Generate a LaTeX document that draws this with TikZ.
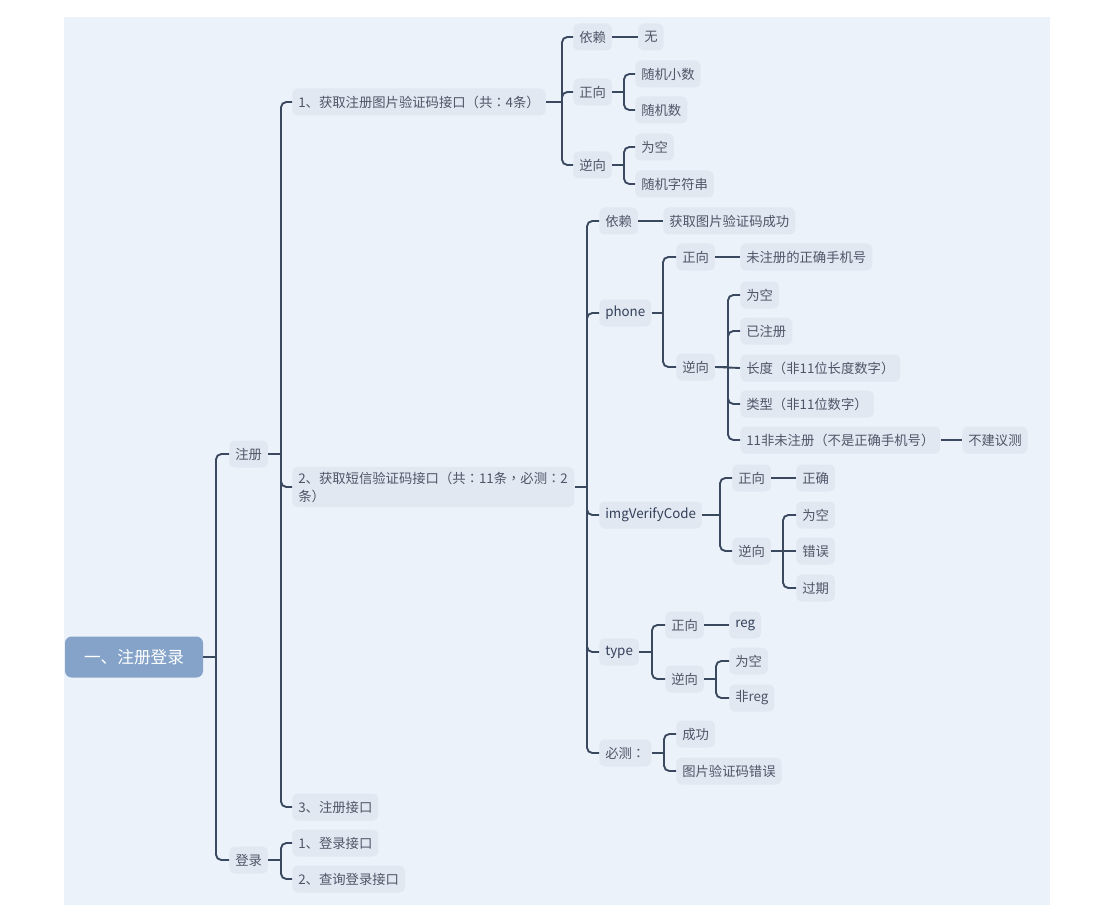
\documentclass[tikz,border=0pt]{standalone}
\usepackage{fontspec}
\setmainfont{Noto Sans CJK SC}
\newfontfamily\tcfont{Noto Sans CJK TC}
\newcommand\LP{{\tcfont （}}
\newcommand\RP{{\tcfont ）}}
\newcommand\CO{{\tcfont ：}}
\newcommand\CM{{\tcfont ，}}
\definecolor{bgc}{HTML}{EBF2FA}
\definecolor{nodefill}{HTML}{E1E8F1}
\definecolor{linec}{HTML}{3A4860}
\definecolor{rootfill}{HTML}{85A3C9}
\definecolor{txt}{HTML}{4E5668}
\definecolor{txtdark}{HTML}{34405A}
\newcommand\branchto[3]{%
  \coordinate (#1-t) at (#2,0);
  \draw[conn] (#1.east) -- (#1.east -| #1-t);
  \foreach \c in {#3} {\draw[conn] (#1.east -| #1-t) |- (\c.west);}
}
\begin{document}
\begin{tikzpicture}[x=0.75pt,y=-0.75pt,
  topic/.style={anchor=west,fill=nodefill,rounded corners=4pt,text=txt,
    font=\fontsize{10}{13.5}\selectfont,inner xsep=4.5pt,inner ysep=0pt,minimum height=20.25pt},
  latin/.style={text=txtdark},
  roottopic/.style={fill=rootfill,rounded corners=5pt,text=white,
    font=\fontsize{12.5}{15}\selectfont,minimum width=103.5pt,minimum height=30.75pt},
  conn/.style={draw=linec,line width=1.4pt,rounded corners=4pt}]
\useasboundingbox (0,0) rectangle (1102,916);
\fill[white] (0,0) rectangle (1102,916);
\fill[bgc] (64,17) rectangle (1050,905);

% nodes
\node[roottopic] (root) at (134,657) {一、注册登录};
\node[topic] (zc) at (229,454) {注册};
\node[topic] (dl) at (229,860) {登录};
\node[topic] (n1) at (292,102) {1、获取注册图片验证码接口\LP 共\CO 4条\RP};
\node[topic,align=left,inner ysep=3.5pt,text width=202.5pt] (n2) at (292,487) {2、获取短信验证码接口\LP 共\CO 11条\CM 必测\CO 2\\条\RP};
\node[topic] (n3) at (292,807) {3、注册接口};
\node[topic] (l1) at (292,843) {1、登录接口};
\node[topic] (l2) at (292,879) {2、查询登录接口};

\node[topic] (adep) at (573,37) {依赖};
\node[topic] (anone) at (638,37) {无};
\node[topic] (apos) at (573,92) {正向};
\node[topic] (ap1) at (635,74) {随机小数};
\node[topic] (ap2) at (635,110) {随机数};
\node[topic] (aneg) at (573,165) {逆向};
\node[topic] (an1) at (635,147) {为空};
\node[topic] (an2) at (635,184) {随机字符串};

\node[topic] (bdep) at (599,221) {依赖};
\node[topic] (bdep1) at (663,221) {获取图片验证码成功};
\node[topic,latin] (phone) at (599,313) {phone};
\node[topic] (phpos) at (676,257) {正向};
\node[topic] (phpos1) at (740,257) {未注册的正确手机号};
\node[topic] (phneg) at (676,367) {逆向};
\node[topic] (phn1) at (740,295) {为空};
\node[topic] (phn2) at (740,331) {已注册};
\node[topic] (phn3) at (740,368) {长度\LP 非11位长度数字\RP};
\node[topic] (phn4) at (740,404) {类型\LP 非11位数字\RP};
\node[topic] (phn5) at (740,440) {11非未注册\LP 不是正确手机号\RP};
\node[topic] (phn5a) at (962,440) {不建议测};

\node[topic,latin] (img) at (599,515) {imgVerifyCode};
\node[topic] (imgpos) at (732,478) {正向};
\node[topic] (imgpos1) at (796,478) {正确};
\node[topic] (imgneg) at (732,551) {逆向};
\node[topic] (imgn1) at (796,515) {为空};
\node[topic] (imgn2) at (796,551) {错误};
\node[topic] (imgn3) at (796,588) {过期};

\node[topic,latin] (type) at (599,652) {type};
\node[topic] (typos) at (665,625) {正向};
\node[topic,latin] (typos1) at (729,625) {reg};
\node[topic] (tyneg) at (665,679) {逆向};
\node[topic] (tyn1) at (729,661) {为空};
\node[topic] (tyn2) at (729,698) {非reg};

\node[topic] (must) at (599,753) {必测\CO};
\node[topic] (must1) at (676,734) {成功};
\node[topic] (must2) at (676,771) {图片验证码错误};

% connectors
\branchto{root}{216}{zc,dl}
\branchto{zc}{281}{n1,n2,n3}
\branchto{dl}{281}{l1,l2}
\branchto{n1}{562}{apos,aneg}
\draw[conn] (n1.east -| n1-t) |- (adep.west);
\draw[conn] (adep.east) -- (anone.west);
\branchto{apos}{624}{ap1,ap2}
\branchto{aneg}{624}{an1,an2}
\branchto{n2}{587}{bdep,phone,img,type,must}
\draw[conn] (bdep.east) -- (bdep1.west);
\branchto{phone}{663}{phpos,phneg}
\draw[conn] (phpos.east) -- (phpos1.west);
\branchto{phneg}{728}{phn1,phn2,phn5}
\draw[conn] (phneg.east) -- (phn3.west);
\draw[conn] (phneg.east -| phneg-t) |- (phn4.west);
\draw[conn] (phn5.east) -- (phn5a.west);
\branchto{img}{720}{imgpos,imgneg}
\draw[conn] (imgpos.east) -- (imgpos1.west);
\branchto{imgneg}{783}{imgn1,imgn3}
\draw[conn] (imgneg.east) -- (imgn2.west);
\branchto{type}{652}{typos,tyneg}
\draw[conn] (typos.east) -- (typos1.west);
\branchto{tyneg}{716}{tyn1,tyn2}
\branchto{must}{664}{must1,must2}
\end{tikzpicture}
\end{document}
